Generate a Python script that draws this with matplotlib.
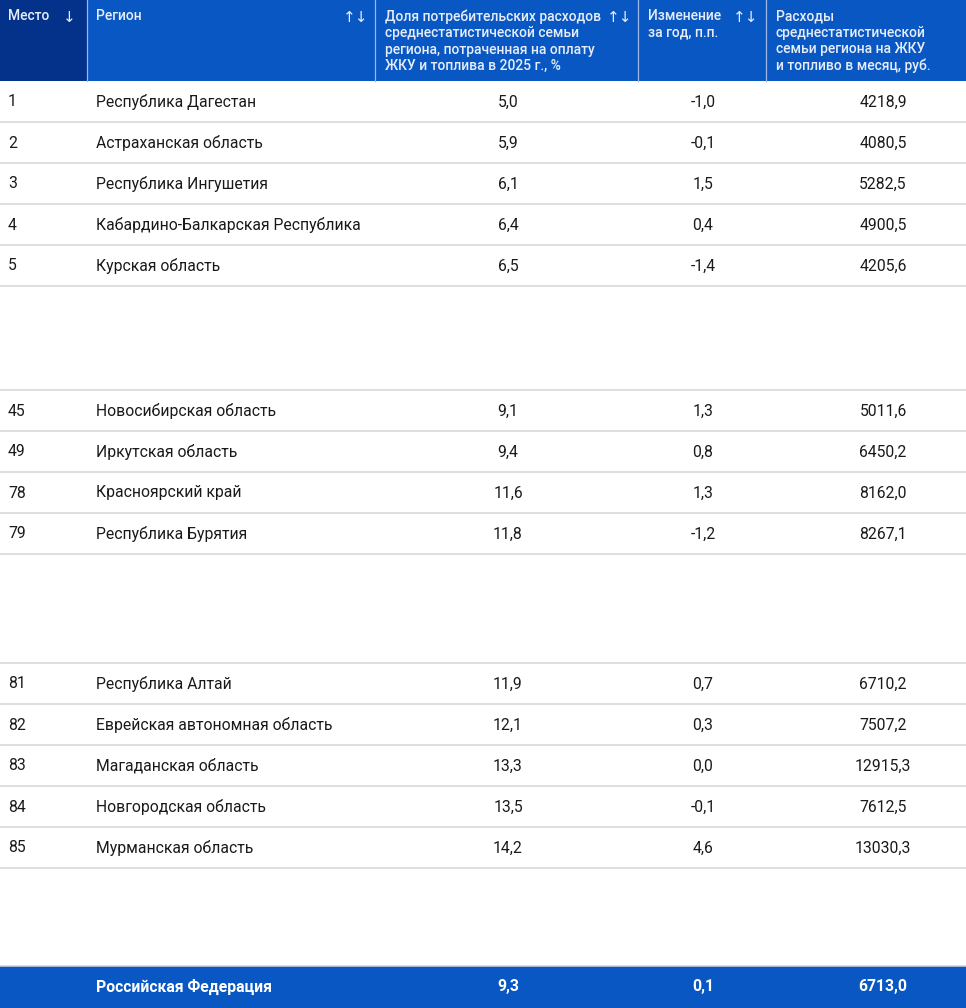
import matplotlib.pyplot as plt

# table data
ranks = ['1', '2', '3', '4', '5',
         '45', '49', '78', '79',
         '81', '82', '83', '84', '85']
regions = ['Республика Дагестан', 'Астраханская область', 'Республика Ингушетия',
           'Кабардино-Балкарская Республика', 'Курская область',
           'Новосибирская область', 'Иркутская область', 'Красноярский край',
           'Республика Бурятия',
           'Республика Алтай', 'Еврейская автономная область', 'Магаданская область',
           'Новгородская область', 'Мурманская область']
share = ['5,0', '5,9', '6,1', '6,4', '6,5',
         '9,1', '9,4', '11,6', '11,8',
         '11,9', '12,1', '13,3', '13,5', '14,2']
change = ['-1,0', '-0,1', '1,5', '0,4', '-1,4',
          '1,3', '0,8', '1,3', '-1,2',
          '0,7', '0,3', '0,0', '-0,1', '4,6']
spend = ['4218,9', '4080,5', '5282,5', '4900,5', '4205,6',
         '5011,6', '6450,2', '8162,0', '8267,1',
         '6710,2', '7507,2', '12915,3', '7612,5', '13030,3']
group_sizes = [5, 4, 5]

headers = ['Место', 'Регион',
           'Доля потребительских расходов\nсреднестатистической семьи\nрегиона, потраченная на оплату\nЖКУ и топлива в 2025 г., %',
           'Изменение\nза год, п.п.',
           'Расходы\nсреднестатистической\nсемьи региона на ЖКУ\nи топливо в месяц, руб.']
sort_marks = ['↓', '↑↓', '↑↓', '↑↓', '']

total_label = 'Российская Федерация'
total_vals = ['9,3', '0,1', '6713,0']

# layout in pixels
W, H = 966, 1008
col_edges = [0, 87, 375, 638, 766, W]
header_h = 81
row_h = 41
gaps = [104, 109, 98]
footer_h = 42

blue = '#0857c3'
navy = '#04328a'
sep_line = '#d4d4d4'
txt = '#1a1a1a'
hdr_txt = '#e6edf8'

fam = ['Roboto', 'DejaVu Sans']

fig = plt.figure(figsize=(W / 100, H / 100), dpi=100)
ax = fig.add_axes([0, 0, 1, 1])
ax.set_xlim(0, W)
ax.set_ylim(H, 0)
ax.axis('off')

# header
ax.add_patch(plt.Rectangle((0, 0), W, header_h, color=blue, lw=0))
ax.add_patch(plt.Rectangle((0, 0), col_edges[1], header_h, color=navy, lw=0))
for x in col_edges[1:-1]:
    ax.plot([x, x], [0, header_h], color='#9db8e6', lw=0.9)
hdr_x = [8, 96, 385, 648, 776]
mark_x = [69, 356, 620, 746, None]
for i in range(5):
    ax.text(hdr_x[i], 9.5, headers[i], color=hdr_txt, fontsize=10, family=fam,
            weight='medium', va='top', ha='left', linespacing=1.22)
    if sort_marks[i]:
        ax.text(mark_x[i], 18, sort_marks[i], color=hdr_txt, fontsize=11,
                family=fam, ha='center', va='center')

# body rows
y = header_h
k = 0
for g, n in enumerate(group_sizes):
    for _ in range(n):
        yc = y + row_h / 2 + 0.5
        ax.text(8, yc, ranks[k], color=txt, fontsize=11.3, family=fam, va='center')
        ax.text(96, yc, regions[k], color=txt, fontsize=11.3, family=fam, va='center')
        ax.text(508, yc, share[k], color=txt, fontsize=11.3, family=fam,
                va='center', ha='center')
        ax.text(703, yc, change[k], color=txt, fontsize=11.3, family=fam,
                va='center', ha='center')
        ax.text(883, yc, spend[k], color=txt, fontsize=11.3, family=fam,
                va='center', ha='center')
        y += row_h
        ax.plot([0, W], [y, y], color=sep_line, lw=1.1)
        k += 1
    y += gaps[g]
    ax.plot([0, W], [y, y], color=sep_line, lw=1.1)

# footer total row
ax.add_patch(plt.Rectangle((0, y), W, footer_h + 2, color=blue, lw=0))
yc = y + footer_h / 2
ax.text(96, yc, total_label, color='white', fontsize=11.3, family=fam,
        weight='bold', va='center')
for xc, v in zip([508, 703, 883], total_vals):
    ax.text(xc, yc, v, color='white', fontsize=11.3, family=fam,
            weight='bold', va='center', ha='center')

fig.savefig('out.png', dpi=100)
